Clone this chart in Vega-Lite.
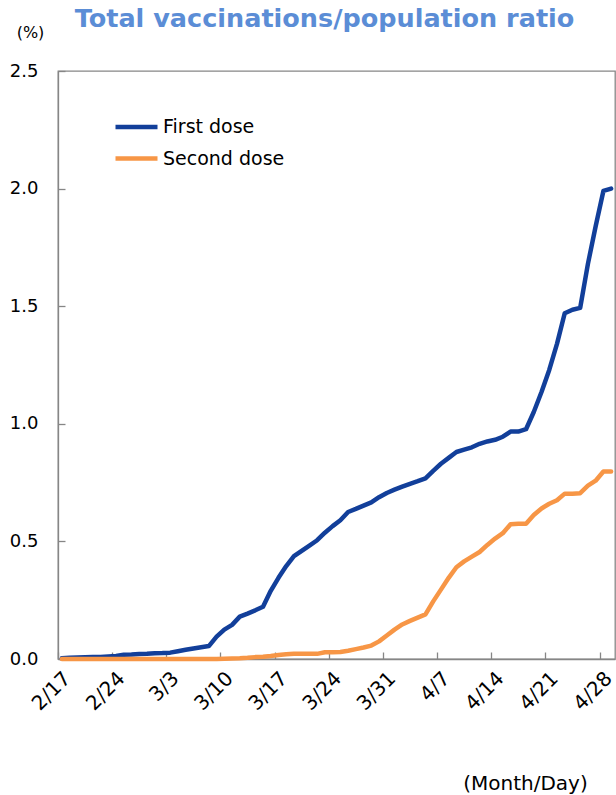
{
  "$schema": "https://vega.github.io/schema/vega-lite/v6.json",
  "width": 557,
  "height": 588,
  "autosize": "none",
  "padding": {"left": 58, "top": 71, "right": 1, "bottom": 136},
  "background": "white",
  "config": {
    "font": "DejaVu Sans",
    "view": {"stroke": "#868686", "strokeWidth": 1.3}
  },
  "title": {
    "text": "Total vaccinations/population ratio",
    "font": "DejaVu Sans",
    "fontWeight": "bold",
    "fontSize": 25.5,
    "color": "#5B8DD6",
    "anchor": "middle",
    "frame": "group",
    "baseline": "alphabetic",
    "offset": -28,
    "dx": -12
  },
  "data": {
    "values": [
      {"date": "2021-02-17", "First dose": 0.003, "Second dose": 0},
      {"date": "2021-02-18", "First dose": 0.005, "Second dose": 0},
      {"date": "2021-02-19", "First dose": 0.006, "Second dose": 0},
      {"date": "2021-02-20", "First dose": 0.007, "Second dose": 0},
      {"date": "2021-02-21", "First dose": 0.008, "Second dose": 0},
      {"date": "2021-02-22", "First dose": 0.009, "Second dose": 0},
      {"date": "2021-02-23", "First dose": 0.011, "Second dose": 0},
      {"date": "2021-02-24", "First dose": 0.013, "Second dose": 0},
      {"date": "2021-02-25", "First dose": 0.018, "Second dose": 0},
      {"date": "2021-02-26", "First dose": 0.019, "Second dose": 0},
      {"date": "2021-02-27", "First dose": 0.021, "Second dose": 0},
      {"date": "2021-02-28", "First dose": 0.022, "Second dose": 0},
      {"date": "2021-03-01", "First dose": 0.024, "Second dose": 0},
      {"date": "2021-03-02", "First dose": 0.025, "Second dose": 0},
      {"date": "2021-03-03", "First dose": 0.027, "Second dose": 0},
      {"date": "2021-03-04", "First dose": 0.033, "Second dose": 0},
      {"date": "2021-03-05", "First dose": 0.039, "Second dose": 0},
      {"date": "2021-03-06", "First dose": 0.045, "Second dose": 0},
      {"date": "2021-03-07", "First dose": 0.050, "Second dose": 0},
      {"date": "2021-03-08", "First dose": 0.055, "Second dose": 0},
      {"date": "2021-03-09", "First dose": 0.095, "Second dose": 0},
      {"date": "2021-03-10", "First dose": 0.125, "Second dose": 0.001},
      {"date": "2021-03-11", "First dose": 0.145, "Second dose": 0.002},
      {"date": "2021-03-12", "First dose": 0.180, "Second dose": 0.003},
      {"date": "2021-03-13", "First dose": 0.193, "Second dose": 0.005},
      {"date": "2021-03-14", "First dose": 0.207, "Second dose": 0.008},
      {"date": "2021-03-15", "First dose": 0.222, "Second dose": 0.010},
      {"date": "2021-03-16", "First dose": 0.290, "Second dose": 0.013},
      {"date": "2021-03-17", "First dose": 0.345, "Second dose": 0.017},
      {"date": "2021-03-18", "First dose": 0.395, "Second dose": 0.020},
      {"date": "2021-03-19", "First dose": 0.437, "Second dose": 0.022},
      {"date": "2021-03-20", "First dose": 0.460, "Second dose": 0.022},
      {"date": "2021-03-21", "First dose": 0.482, "Second dose": 0.022},
      {"date": "2021-03-22", "First dose": 0.505, "Second dose": 0.022},
      {"date": "2021-03-23", "First dose": 0.537, "Second dose": 0.029},
      {"date": "2021-03-24", "First dose": 0.565, "Second dose": 0.029},
      {"date": "2021-03-25", "First dose": 0.590, "Second dose": 0.030},
      {"date": "2021-03-26", "First dose": 0.625, "Second dose": 0.035},
      {"date": "2021-03-27", "First dose": 0.638, "Second dose": 0.042},
      {"date": "2021-03-28", "First dose": 0.652, "Second dose": 0.049},
      {"date": "2021-03-29", "First dose": 0.666, "Second dose": 0.057},
      {"date": "2021-03-30", "First dose": 0.688, "Second dose": 0.075},
      {"date": "2021-03-31", "First dose": 0.706, "Second dose": 0.100},
      {"date": "2021-04-01", "First dose": 0.720, "Second dose": 0.125},
      {"date": "2021-04-02", "First dose": 0.733, "Second dose": 0.147},
      {"date": "2021-04-03", "First dose": 0.745, "Second dose": 0.162},
      {"date": "2021-04-04", "First dose": 0.756, "Second dose": 0.176},
      {"date": "2021-04-05", "First dose": 0.768, "Second dose": 0.190},
      {"date": "2021-04-06", "First dose": 0.800, "Second dose": 0.245},
      {"date": "2021-04-07", "First dose": 0.830, "Second dose": 0.295},
      {"date": "2021-04-08", "First dose": 0.855, "Second dose": 0.345},
      {"date": "2021-04-09", "First dose": 0.880, "Second dose": 0.390},
      {"date": "2021-04-10", "First dose": 0.890, "Second dose": 0.415},
      {"date": "2021-04-11", "First dose": 0.900, "Second dose": 0.435},
      {"date": "2021-04-12", "First dose": 0.915, "Second dose": 0.455},
      {"date": "2021-04-13", "First dose": 0.925, "Second dose": 0.485},
      {"date": "2021-04-14", "First dose": 0.932, "Second dose": 0.512},
      {"date": "2021-04-15", "First dose": 0.945, "Second dose": 0.535},
      {"date": "2021-04-16", "First dose": 0.967, "Second dose": 0.573},
      {"date": "2021-04-17", "First dose": 0.967, "Second dose": 0.575},
      {"date": "2021-04-18", "First dose": 0.977, "Second dose": 0.575},
      {"date": "2021-04-19", "First dose": 1.050, "Second dose": 0.612},
      {"date": "2021-04-20", "First dose": 1.135, "Second dose": 0.640},
      {"date": "2021-04-21", "First dose": 1.229, "Second dose": 0.660},
      {"date": "2021-04-22", "First dose": 1.340, "Second dose": 0.675},
      {"date": "2021-04-23", "First dose": 1.470, "Second dose": 0.703},
      {"date": "2021-04-24", "First dose": 1.485, "Second dose": 0.703},
      {"date": "2021-04-25", "First dose": 1.493, "Second dose": 0.705},
      {"date": "2021-04-26", "First dose": 1.680, "Second dose": 0.737},
      {"date": "2021-04-27", "First dose": 1.840, "Second dose": 0.758},
      {"date": "2021-04-28", "First dose": 1.990, "Second dose": 0.797},
      {"date": "2021-04-29", "First dose": 2.000, "Second dose": 0.797}
    ]
  },
  "transform": [
    {"fold": ["First dose", "Second dose"], "as": ["dose", "value"]}
  ],
  "mark": {"type": "line", "strokeWidth": 4.5, "strokeJoin": "round", "strokeCap": "round"},
  "encoding": {
    "x": {
      "field": "date",
      "type": "temporal",
      "scale": {
        "type": "utc",
        "domain": [
          {"year": 2021, "month": 2, "date": 16, "hours": 12, "utc": true},
          {"year": 2021, "month": 4, "date": 29, "hours": 12, "utc": true}
        ]
      },
      "axis": {
        "values": [
          {"year": 2021, "month": 2, "date": 17, "utc": true},
          {"year": 2021, "month": 2, "date": 24, "utc": true},
          {"year": 2021, "month": 3, "date": 3, "utc": true},
          {"year": 2021, "month": 3, "date": 10, "utc": true},
          {"year": 2021, "month": 3, "date": 17, "utc": true},
          {"year": 2021, "month": 3, "date": 24, "utc": true},
          {"year": 2021, "month": 3, "date": 31, "utc": true},
          {"year": 2021, "month": 4, "date": 7, "utc": true},
          {"year": 2021, "month": 4, "date": 14, "utc": true},
          {"year": 2021, "month": 4, "date": 21, "utc": true},
          {"year": 2021, "month": 4, "date": 28, "utc": true}
        ],
        "labelExpr": "utcFormat(datum.value, '%-m/%-d')",
        "labelAngle": -45,
        "labelAlign": "right",
        "labelBaseline": "top",
        "labelFontSize": 20,
        "labelColor": "black",
        "labelPadding": 16,
        "labelOverlap": false,
        "tickOffset": -3.87,
        "labelOffset": 2,
        "tickSize": -7,
        "tickColor": "#868686",
        "tickWidth": 1.3,
        "domainColor": "#868686",
        "domainWidth": 1.3,
        "grid": false,
        "title": "(Month/Day)",
        "titleFontSize": 20,
        "titleFontWeight": "normal",
        "titleColor": "black",
        "titleAlign": "center",
        "titleBaseline": "alphabetic",
        "titleAnchor": "start",
        "titleX": 467,
        "titleY": 130
      }
    },
    "y": {
      "field": "value",
      "type": "quantitative",
      "scale": {"domain": [0, 2.5], "nice": false},
      "axis": {
        "values": [0, 0.5, 1, 1.5, 2, 2.5],
        "format": ".1f",
        "labelFontSize": 18,
        "labelColor": "black",
        "labelPadding": 27,
        "tickSize": -7,
        "tickColor": "#868686",
        "tickWidth": 1.3,
        "domainColor": "#868686",
        "domainWidth": 1.3,
        "grid": false,
        "title": "(%)",
        "titleFontSize": 16,
        "titleFontWeight": "normal",
        "titleColor": "black",
        "titleAngle": 0,
        "titleAlign": "center",
        "titleBaseline": "alphabetic",
        "titleAnchor": "start",
        "titleX": -28,
        "titleY": -34
      }
    },
    "color": {
      "field": "dose",
      "type": "nominal",
      "scale": {"domain": ["First dose", "Second dose"], "range": ["#123F9A", "#F79646"]},
      "legend": {
        "orient": "none",
        "legendX": 55,
        "legendY": 41,
        "title": null,
        "padding": 0,
        "symbolType": "stroke",
        "symbolSize": 1764,
        "symbolStrokeWidth": 4.5,
        "clipHeight": 30,
        "rowPadding": 1.5,
        "labelOffset": 3,
        "labelFontSize": 19,
        "labelColor": "black"
      }
    }
  }
}
